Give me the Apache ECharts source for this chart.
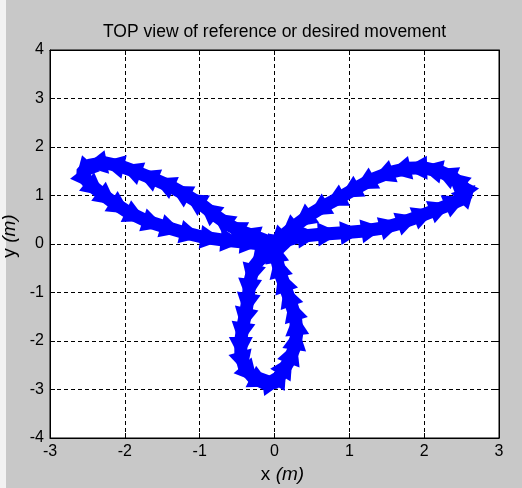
<!DOCTYPE html>
<html>
<head>
<meta charset="utf-8">
<script src="https://cdn.jsdelivr.net/npm/echarts@6/dist/echarts.min.js"></script>
<style>
  html, body { margin: 0; padding: 0; background: #c8c8c8; }
  #main { width: 522px; height: 488px; }
</style>
</head>
<body>
<div id="main"></div>
<script>
// axis ranges
const xRange = [-3, 3];
const yRange = [-4, 4];

// path, in the order the movement goes
// right petal: out along the lower branch, back along the upper one
const rightPetalX = [0.00, 0.10, 0.35, 0.62, 0.92, 1.20, 1.45, 1.68, 1.90, 2.12, 2.32, 2.50, 2.58, 2.50, 2.38, 2.20, 2.00, 1.78, 1.55, 1.30, 1.10, 0.90, 0.68, 0.47, 0.28, 0.12];
const rightPetalY = [0.00, 0.05, 0.16, 0.20, 0.23, 0.27, 0.33, 0.43, 0.55, 0.68, 0.80, 0.92, 1.05, 1.22, 1.38, 1.50, 1.57, 1.56, 1.48, 1.33, 1.16, 0.98, 0.80, 0.60, 0.38, 0.18];
// left petal: out along the upper branch, back along the lower one
const leftPetalX = [0.00, -0.25, -0.45, -0.62, -0.80, -0.98, -1.17, -1.38, -1.60, -1.82, -2.05, -2.28, -2.48, -2.58, -2.48, -2.32, -2.15, -1.95, -1.72, -1.48, -1.22, -0.95, -0.68, -0.42, -0.18];
const leftPetalY = [0.00, 0.15, 0.26, 0.40, 0.60, 0.82, 1.00, 1.18, 1.33, 1.47, 1.60, 1.68, 1.62, 1.45, 1.25, 1.05, 0.85, 0.65, 0.48, 0.36, 0.24, 0.14, 0.08, 0.04, 0.00];
// bottom petal: down the left side, back up the right side
const bottomPetalX = [0.00, -0.15, -0.28, -0.33, -0.35, -0.38, -0.42, -0.45, -0.45, -0.40, -0.28, -0.12, 0.02, 0.10, 0.20, 0.27, 0.30, 0.28, 0.22, 0.15, 0.08, 0.03, 0.00];
const bottomPetalY = [0.00, -0.22, -0.48, -0.78, -1.08, -1.38, -1.68, -1.98, -2.28, -2.55, -2.76, -2.88, -2.85, -2.65, -2.40, -2.12, -1.82, -1.52, -1.22, -0.92, -0.62, -0.32, -0.05];

const pathX = rightPetalX.concat(leftPetalX, bottomPetalX);
const pathY = rightPetalY.concat(leftPetalY, bottomPetalY);

const pathPoints = pathX.map((x, i) => [x, pathY[i]]);
// each arrow goes from one point toward the next one
const arrows = [];
for (let i = 0; i < pathX.length - 1; i++) {
  arrows.push([pathX[i], pathY[i], pathX[i + 1], pathY[i + 1]]);
}

const BLUE = '#0000ff';
const HEAD_LEN = 20;
const HALF_W = 12;
const FONT = 'Liberation Sans, Arial, sans-serif';

const chart = echarts.init(document.getElementById('main'));

const tickFont = { fontSize: 16, color: '#000', fontFamily: FONT };
const nameRich = {
  n: { fontSize: 19, color: '#000', fontFamily: FONT },
  i: { fontSize: 19, color: '#000', fontStyle: 'italic', fontFamily: FONT }
};

const option = {
  backgroundColor: '#c8c8c8',
  animation: false,
  title: {
    text: 'TOP view of reference or desired movement',
    left: 98,
    top: 18,
    textStyle: { fontSize: 17.5, fontWeight: 'normal', color: '#000', fontFamily: FONT }
  },
  grid: {
    left: 50, top: 50, width: 449, height: 388,
    outerBoundsMode: 'none', containLabel: false,
    show: true, backgroundColor: '#fff', borderColor: '#000', borderWidth: 1
  },
  graphic: [
    { type: 'rect', shape: { x: 0, y: 0, width: 6, height: 488 }, style: { fill: '#f2f2f2' }, silent: true }
  ],
  xAxis: [
    {
      type: 'value', min: xRange[0], max: xRange[1], interval: 1, position: 'bottom',
      name: '{n|x }{i|(m)}', nameLocation: 'middle', nameGap: 23,
      nameTextStyle: { rich: nameRich, padding: [0, 0, 0, 16] },
      axisLine: { show: true, onZero: false, lineStyle: { color: '#000', width: 1 } },
      axisTick: { show: true, inside: true, length: 5, lineStyle: { color: '#000' } },
      axisLabel: Object.assign({ margin: 6 }, tickFont),
      splitLine: { show: true, lineStyle: { color: '#000', type: [4, 3], width: 1 } }
    },
    {
      type: 'value', min: xRange[0], max: xRange[1], interval: 1, position: 'top',
      axisLine: { show: true, onZero: false, lineStyle: { color: '#000' } },
      axisTick: { show: true, inside: true, length: 5, lineStyle: { color: '#000' } },
      axisLabel: { show: false },
      splitLine: { show: false }
    }
  ],
  yAxis: [
    {
      type: 'value', min: yRange[0], max: yRange[1], interval: 1, position: 'left',
      name: '{n|y }{i|(m)}', nameLocation: 'middle', nameGap: 26, nameRotate: 90,
      nameTextStyle: { rich: nameRich, padding: [0, 0, 0, 16] },
      axisLine: { show: true, onZero: false, lineStyle: { color: '#000', width: 1 } },
      axisTick: { show: true, inside: true, length: 5, lineStyle: { color: '#000' } },
      axisLabel: Object.assign({ margin: 6 }, tickFont),
      splitLine: { show: true, lineStyle: { color: '#000', type: [4, 3], width: 1 } }
    },
    {
      type: 'value', min: yRange[0], max: yRange[1], interval: 1, position: 'right',
      axisLine: { show: true, onZero: false, lineStyle: { color: '#000' } },
      axisTick: { show: true, inside: true, length: 5, lineStyle: { color: '#000' } },
      axisLabel: { show: false },
      splitLine: { show: false }
    }
  ],
  series: [
    {
      type: 'line',
      xAxisIndex: 0, yAxisIndex: 0,
      data: pathPoints,
      showSymbol: false,
      lineStyle: { color: BLUE, width: 13 },
      z: 3
    },
    {
      type: 'custom',
      xAxisIndex: 0, yAxisIndex: 0,
      data: arrows,
      encode: { x: [0, 2], y: [1, 3] },
      z: 4,
      renderItem: function (params, api) {
        const p = api.coord([api.value(0), api.value(1)]);
        const q = api.coord([api.value(2), api.value(3)]);
        const dx = q[0] - p[0], dy = q[1] - p[1];
        const len = Math.sqrt(dx * dx + dy * dy) || 1;
        const ux = dx / len, uy = dy / len;
        const nx = -uy, ny = ux;
        const tip = [p[0] + ux * HEAD_LEN, p[1] + uy * HEAD_LEN];
        const b1 = [p[0] - ux * 3 + nx * HALF_W, p[1] - uy * 3 + ny * HALF_W];
        const b2 = [p[0] - ux * 3 - nx * HALF_W, p[1] - uy * 3 - ny * HALF_W];
        return {
          type: 'polygon',
          shape: { points: [b1, tip, b2] },
          style: { fill: BLUE }
        };
      }
    }
  ]
};

chart.setOption(option);
</script>
</body>
</html>
